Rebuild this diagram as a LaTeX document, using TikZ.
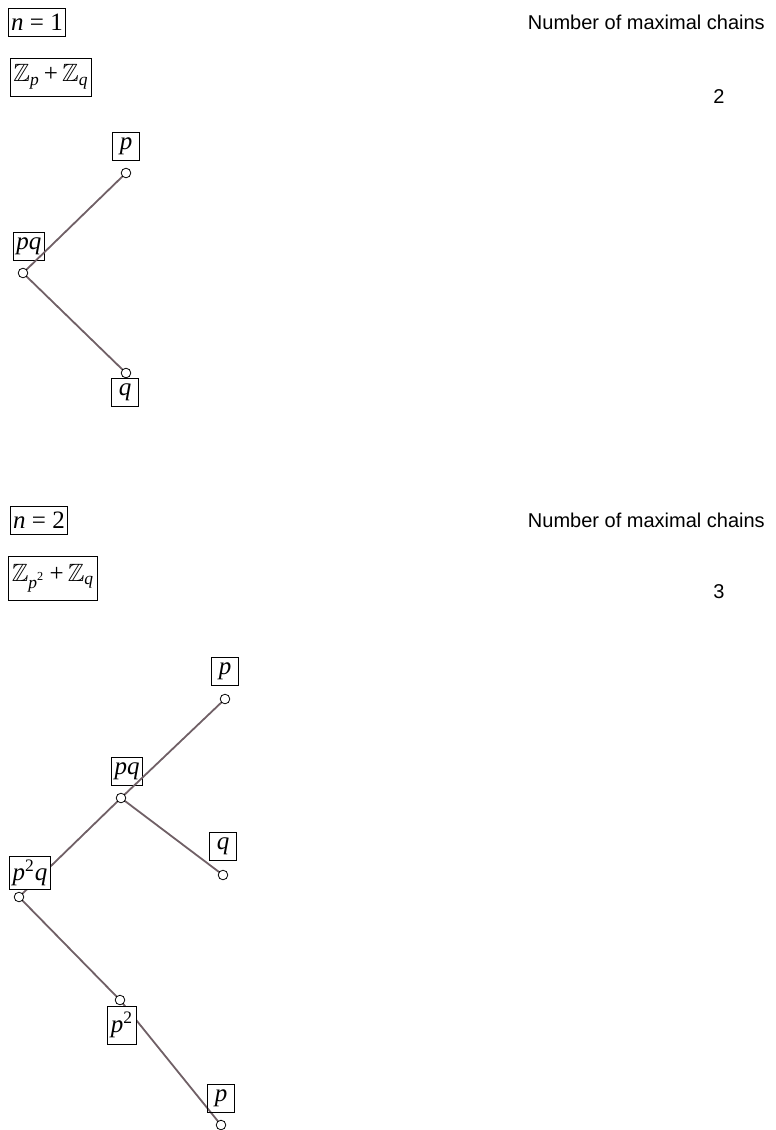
\documentclass[tikz,border=0pt]{standalone}
\usepackage{fontspec}
\usepackage{amsmath, amssymb}
\newfontfamily\headfont{Liberation Sans}
\newfontfamily\elemfont{Liberation Serif}
\usetikzlibrary{positioning}
\definecolor{linkgray}{RGB}{112,96,102}
\tikzset{
	hasse/.style={x=0.5pt,y=-0.5pt,semithick},
	elem/.style={draw,thin,inner xsep=1.5pt,inner ysep=2pt,minimum height=14pt,minimum width=13.5pt,font=\elemfont\itshape\fontsize{12.5}{14}\selectfont},
	vert/.style={circle,draw,thin,fill=white,inner sep=0pt,minimum size=4.8pt},
	link/.style={draw=linkgray,line width=0.9pt},
	head/.style={font=\headfont\fontsize{10}{12}\selectfont,anchor=east},
	count/.style={font=\headfont\fontsize{10}{12}\selectfont}
}
\newcommand{\sq}{\textsuperscript{\upshape 2}}
\newcommand{\zz}[1]{$\mathbb{Z}_{\text{\itshape #1}}$}

\begin{document}
\begin{tikzpicture}[hasse]
\useasboundingbox (0,0) rectangle (776,1130);

% n = 1
\node[elem] (n1) at (37,22) {n {\upshape = 1}};
\node[elem, minimum height=19pt] (g1) at (51,77) {\zz{p}{\upshape\,+\,}\zz{q}};
\node[head] (h1) at (772,22) {Number of maximal chains};
\node[count] (c1) at (719,97) {2};

\node[elem] (l1p) at (126,146) {p};
\node[elem] (l1pq) at (29,246) {pq};
\node[elem] (l1q) at (125,392) {q};

\coordinate (v1p) at (126,173);
\coordinate (v1pq) at (23,273);
\coordinate (v1q) at (126,373);

\path[link] (v1pq) edge (v1p);
\path[link] (v1pq) edge (v1q);

\node[vert] at (v1p) {};
\node[vert] at (v1pq) {};
\node[vert] at (v1q) {};

% n = 2
\node[elem] (n2) at (39,520) {n {\upshape = 2}};
\node[elem, minimum height=22pt] (g2) at (53,578) {\zz{p\sq}{\upshape\,+\,}\zz{q}};
\node[head] (h2) at (772,520) {Number of maximal chains};
\node[count] (c2) at (719,592) {3};

\node[elem] (l2p) at (225,671) {p};
\node[elem] (l2pq) at (127,771) {pq};
\node[elem] (l2q) at (223,846) {q};

\coordinate (v2p) at (225,699);
\coordinate (v2pq) at (121,798);
\coordinate (v2q) at (223,875);
\coordinate (v2ppq) at (19,897);
\coordinate (v2pp) at (120,1000);
\coordinate (v2pb) at (221,1125);

\path[link] (v2pq) edge (v2p);
\path[link] (v2pq) edge (v2q);
\path[link] (v2pq) edge (v2ppq);
\path[link] (v2ppq) edge (v2pp);
\path[link] (v2pp) edge (v2pb);

\node[elem, fill=white] (l2ppq) at (30,873) {p\sq q};
\node[elem, fill=white, minimum height=19pt] (l2pp) at (122,1025) {p\sq};
\node[elem] (l2pb) at (221,1098) {p};

\node[vert] at (v2p) {};
\node[vert] at (v2pq) {};
\node[vert] at (v2q) {};
\node[vert] at (v2ppq) {};
\node[vert] at (v2pp) {};
\node[vert] at (v2pb) {};
\end{tikzpicture}
\end{document}
